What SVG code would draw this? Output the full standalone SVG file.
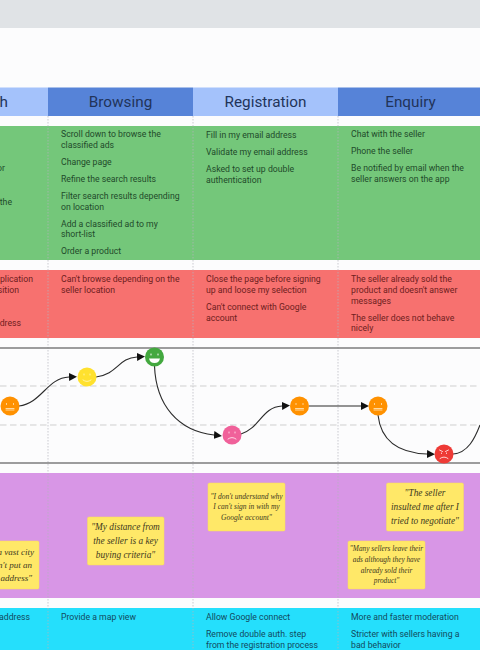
<svg xmlns="http://www.w3.org/2000/svg" width="480" height="650" viewBox="0 0 480 650">
<style>
.t{font:8.7px Roboto,"Liberation Sans",sans-serif}
.g{fill:#1f4a2a}.r{fill:#6e2020}.c{fill:#124a5e}
.h{font:15.3px Roboto,"Liberation Sans",sans-serif;fill:#22345a;text-anchor:middle}
.e{text-anchor:end}
.q{font-family:"Liberation Serif",serif;font-style:italic;fill:#3e3820;text-anchor:middle}
.n{fill:#ffe868;stroke:#f8dc5a;stroke-width:.5}
.v{stroke:#b4b4bc;stroke-width:.7;stroke-dasharray:1.5 1.5;fill:none}
.d{stroke:#cfcfcf;stroke-width:1;stroke-dasharray:6.500 3.500;fill:none}
.b{stroke:#7c7c7c;stroke-width:1.500;fill:none}
.k{stroke:#2b2b2b;stroke-width:1.100;fill:none;marker-end:url(#a)}
.f{fill:none;stroke-width:1;stroke-linecap:round}
</style>
<defs>
<marker id="a" markerUnits="userSpaceOnUse" markerWidth="8" markerHeight="8" refX="0" refY="4" orient="auto"><path d="M0 0L8 4L0 8Z" fill="#111"/></marker>
</defs>
<rect width="480" height="650" fill="#fcfcfd"/>
<rect width="480" height="28" fill="#e0e3e6"/>
<g id="headers">
<rect x="0" y="87.500" width="48" height="28.500" fill="#a4c2fb"/>
<rect x="48" y="87.500" width="145" height="28.500" fill="#5683d8"/>
<rect x="193" y="87.500" width="145" height="28.500" fill="#a4c2fb"/>
<rect x="338" y="87.500" width="142" height="28.500" fill="#5683d8"/>
<text class="h e" style="text-anchor:end" x="8" y="107">h</text>
<text class="h" x="120.500" y="107">Browsing</text>
<text class="h" x="265.500" y="107">Registration</text>
<text class="h" x="410.500" y="107">Enquiry</text>
</g>
<g id="bands">
<rect y="126" width="480" height="134" fill="#74c77a"/>
<rect y="270" width="480" height="68" fill="#f7716f"/>
<rect y="473" width="480" height="125" fill="#d896e6"/>
<rect y="608" width="480" height="42" fill="#25dffc"/>
</g>
<g id="actions">
<text class="t g e" x="5" y="171">or</text>
<text class="t g e" x="12" y="205">the</text>
<text class="t g" x="61" y="137">Scroll down to browse the</text>
<text class="t g" x="61" y="148">classified ads</text>
<text class="t g" x="61" y="165">Change page</text>
<text class="t g" x="61" y="181.500">Refine the search results</text>
<text class="t g" x="61" y="198.500">Filter search results depending</text>
<text class="t g" x="61" y="209.500">on location</text>
<text class="t g" x="61" y="226.500">Add a classified ad to my</text>
<text class="t g" x="61" y="236.500">short-list</text>
<text class="t g" x="61" y="253.500">Order a product</text>
<text class="t g" x="206" y="137.500">Fill in my email address</text>
<text class="t g" x="206" y="154.500">Validate my email address</text>
<text class="t g" x="206" y="171.500">Asked to set up double</text>
<text class="t g" x="206" y="182.500">authentication</text>
<text class="t g" x="351" y="137">Chat with the seller</text>
<text class="t g" x="351" y="154">Phone the seller</text>
<text class="t g" x="351" y="171">Be notified by email when the</text>
<text class="t g" x="351" y="181.500">seller answers on the app</text>
</g>
<g id="pains">
<text class="t r e" x="33" y="282">plication</text>
<text class="t r e" x="19" y="293">sition</text>
<text class="t r e" x="21" y="326">dress</text>
<text class="t r" x="61" y="282">Can't browse depending on the</text>
<text class="t r" x="61" y="293">seller location</text>
<text class="t r" x="206" y="282">Close the page before signing</text>
<text class="t r" x="206" y="293">up and loose my selection</text>
<text class="t r" x="206" y="309.500">Can't connect with Google</text>
<text class="t r" x="206" y="320.500">account</text>
<text class="t r" x="351" y="282">The seller already sold the</text>
<text class="t r" x="351" y="293">product and doesn't answer</text>
<text class="t r" x="351" y="304">messages</text>
<text class="t r" x="351" y="320.500">The seller does not behave</text>
<text class="t r" x="351" y="331">nicely</text>
</g>
<g id="grid">
<line class="v" x1="48" y1="116" x2="48" y2="650"/>
<line class="v" x1="193" y1="116" x2="193" y2="650"/>
<line class="v" x1="338" y1="116" x2="338" y2="650"/>
<line class="b" x1="0" y1="348" x2="480" y2="348"/>
<line class="b" x1="0" y1="463" x2="480" y2="463"/>
<line class="d" x1="0" y1="386" x2="480" y2="386"/>
<line class="d" x1="0" y1="425" x2="480" y2="425"/>
</g>
<g id="connectors">
<path class="k" d="M19 406C42 403 47 378 69 377"/>
<path class="k" d="M96 377C118 374 118 358 137 357"/>
<path class="k" d="M154.500 366C156 405 178 431 214 435"/>
<path class="k" d="M241 434C260 428 262 407 282 406"/>
<path class="k" d="M309 406L361 406"/>
<path class="k" d="M378 415C381 442 400 453 427 454"/>
<path class="k" d="M453 454C468 453 475 438 480 425" style="marker-end:none"/>
</g>
<g id="mood-orange-1"><circle cx="10" cy="406" r="9.500" fill="#ff9100"/><path class="f" stroke="#ffd9a0" d="M6 410h8M6 408.500h8M6.500 403.500v1M13.500 403.500v1"/></g>
<g id="mood-yellow"><circle cx="87" cy="377" r="9.500" fill="#ffe12e"/><path class="f" stroke="#fff5a8" d="M83 380q4 3 8 0M84 374v1M90 374v1"/></g>
<g id="mood-green"><circle cx="154.500" cy="357" r="9.500" fill="#43a83f"/><path d="M149 358.500h11q-1 4.500-5.500 4.500t-5.500-4.500z" fill="#fff"/><path class="f" stroke="#fff" d="M151 354v1M158 354v1"/></g>
<g id="mood-pink"><circle cx="232" cy="435" r="9.500" fill="#f0619a"/><path class="f" stroke="#ffd5e4" d="M228 439q4-3 8 0M229 432v1M235 432v1"/></g>
<g id="mood-orange-2"><circle cx="299.500" cy="406" r="9.500" fill="#ff9100"/><path class="f" stroke="#ffd9a0" d="M295.500 410h8M295.500 408.500h8M296 403.500v1M303 403.500v1"/></g>
<g id="mood-orange-3"><circle cx="378" cy="406" r="9.500" fill="#ff9100"/><path class="f" stroke="#ffd9a0" d="M374 410h8M374 408.500h8M374.500 403.500v1M381.500 403.500v1"/></g>
<g id="mood-red"><circle cx="444" cy="454" r="9.500" fill="#ee3a36"/><path class="f" stroke="#ffd0d0" d="M440 458.500q4-3 8 0M439.500 450l3 1.500M448.500 450l-3 1.500M441.500 453v.5M446.500 453v.5"/></g>
<g id="note-1">
<rect class="n" x="-40" y="541" width="79" height="48" rx="1.500"/>
<text class="q" style="text-anchor:end" font-size="9" x="34" y="555">a vast city</text>
<text class="q" style="text-anchor:end" font-size="9" x="32" y="568">n't put an</text>
<text class="q" style="text-anchor:end" font-size="9" x="32" y="581">address"</text>
</g>
<g id="note-2">
<rect class="n" x="87.500" y="517" width="76.500" height="48" rx="1.500"/>
<text class="q" font-size="9.300" x="125.500" y="530">"My distance from</text>
<text class="q" font-size="9.300" x="125.500" y="544">the seller is a key</text>
<text class="q" font-size="9.300" x="125.500" y="558">buying criteria"</text>
</g>
<g id="note-3">
<rect class="n" x="208" y="483" width="77" height="48" rx="1.500"/>
<text class="q" font-size="7.500" x="246.500" y="499">"I don't understand why</text>
<text class="q" font-size="7.500" x="246.500" y="509">I can't sign in with my</text>
<text class="q" font-size="7.500" x="246.500" y="520">Google account"</text>
</g>
<g id="note-4">
<rect class="n" x="386.500" y="483" width="77" height="48" rx="1.500"/>
<text class="q" font-size="9.300" x="425" y="496">"The seller</text>
<text class="q" font-size="9.300" x="425" y="510">insulted me after I</text>
<text class="q" font-size="9.300" x="425" y="524">tried to negotiate"</text>
</g>
<g id="note-5">
<rect class="n" x="348" y="541" width="77" height="48" rx="1.500"/>
<text class="q" font-size="7.300" x="386.500" y="551">"Many sellers leave their</text>
<text class="q" font-size="7.300" x="386.500" y="562">ads although they have</text>
<text class="q" font-size="7.300" x="386.500" y="572.500">already sold their</text>
<text class="q" font-size="7.300" x="386.500" y="583">product"</text>
</g>
<g id="ideas">
<text class="t c e" x="30" y="620">address</text>
<text class="t c" x="61" y="620">Provide a map view</text>
<text class="t c" x="206" y="620">Allow Google connect</text>
<text class="t c" x="206" y="637">Remove double auth. step</text>
<text class="t c" x="206" y="648">from the registration process</text>
<text class="t c" x="351" y="620">More and faster moderation</text>
<text class="t c" x="351" y="637">Stricter with sellers having a</text>
<text class="t c" x="351" y="648">bad behavior</text>
</g>
</svg>
